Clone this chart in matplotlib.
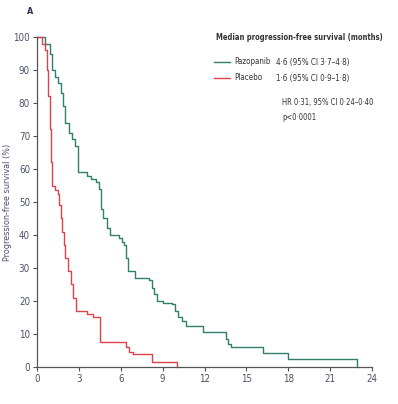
import numpy as np
import matplotlib
matplotlib.use('Agg')
import matplotlib.pyplot as plt

plt.rcParams['font.family'] = ['DejaVu Sans']
plt.rcParams['font.stretch'] = 'condensed'

# step points (months, % progression-free)
paz_t = [0, 0.6, 0.9, 1.05, 1.3, 1.5, 1.75, 1.85, 2.0, 2.3, 2.5, 2.7, 2.9, 3.6, 3.9,
         4.2, 4.45, 4.55, 4.7, 5.0, 5.2, 5.9, 6.1, 6.25, 6.35, 6.5, 7.0, 8.0, 8.2,
         8.4, 8.6, 9.0, 9.7, 9.9, 10.1, 10.4, 10.7, 11.9, 13.5, 13.7, 13.9, 16.2,
         18.0, 22.9]
paz_s = [100, 98, 95, 90, 88, 86, 83, 79, 74, 71, 69, 67, 59, 58, 57,
         56, 54, 48, 45, 42, 40, 39, 38, 37, 33, 29, 27, 26.5, 24,
         22, 20, 19.5, 19, 17, 15, 14, 12.5, 10.5, 8.5, 7, 6, 4.2,
         2.4, 0]
pla_t = [0, 0.35, 0.6, 0.7, 0.8, 0.9, 1.0, 1.1, 1.3, 1.5, 1.6, 1.7, 1.8, 1.9, 2.0,
         2.2, 2.4, 2.6, 2.8, 3.6, 4.0, 4.5, 6.4, 6.6, 6.9, 8.2, 10.0]
pla_s = [100, 98, 96, 90, 82, 72, 62, 55, 53.5, 52.5, 49, 45, 41, 37, 33,
         29, 25, 21, 17, 16, 15, 7.5, 6, 4.5, 3.8, 1.4, 0]

xticks = [0, 3, 6, 9, 12, 15, 18, 21, 24]
yticks = [0, 10, 20, 30, 40, 50, 60, 70, 80, 90, 100]

green = '#2f7f6c'
red = '#e0414b'
tickc = '#4a4f6a'
txtc = '#333333'

fig = plt.figure(figsize=(3.98, 4.04), dpi=100)
ax = fig.add_axes([0.093, 0.0916, 0.842, 0.8168])

ax.step(paz_t, paz_s, where='post', color=green, lw=1.0, clip_on=False)
ax.step(pla_t, pla_s, where='post', color=red, lw=1.0, clip_on=False)

ax.set_xlim(0, 24)
ax.set_ylim(0, 100)
ax.set_xticks(xticks)
ax.set_yticks(yticks)
ax.tick_params(labelsize=7, colors=tickc, length=3, width=0.8, pad=2)
ax.spines['top'].set_visible(False)
ax.spines['right'].set_visible(False)
for s in ['left', 'bottom']:
    ax.spines[s].set_color('#555555')
    ax.spines[s].set_linewidth(0.9)
ax.set_ylabel('Progression-free survival (%)', fontsize=6.5, color=tickc, labelpad=1)

fig.text(0.068, 0.972, 'A', fontsize=6.5, fontweight='bold', color='#333355', va='center')

fx = 1 / 398
fy = 1 / 404
fig.text(216 * fx, 1 - 38 * fy, 'Median progression-free survival (months)',
         fontsize=5.5, fontweight='bold', color=txtc, va='center')
fig.lines.append(plt.Line2D([214 * fx, 230 * fx], [1 - 62 * fy] * 2, color=green,
                            lw=1.0, transform=fig.transFigure))
fig.lines.append(plt.Line2D([214 * fx, 230 * fx], [1 - 78 * fy] * 2, color=red,
                            lw=1.0, transform=fig.transFigure))
fig.text(234 * fx, 1 - 62 * fy, 'Pazopanib', fontsize=5.8, color=txtc, va='center')
fig.text(276 * fx, 1 - 62 * fy, '4·6 (95% CI 3·7–4·8)', fontsize=5.8, color=txtc, va='center')
fig.text(234 * fx, 1 - 78 * fy, 'Placebo', fontsize=5.8, color=txtc, va='center')
fig.text(276 * fx, 1 - 78 * fy, '1·6 (95% CI 0·9–1·8)', fontsize=5.8, color=txtc, va='center')
fig.text(282 * fx, 1 - 103 * fy, 'HR 0·31, 95% CI 0·24–0·40', fontsize=5.5, color=txtc, va='center')
fig.text(282 * fx, 1 - 117 * fy, 'p<0·0001', fontsize=5.5, color=txtc, va='center')

fig.savefig('out.png', dpi=100)
